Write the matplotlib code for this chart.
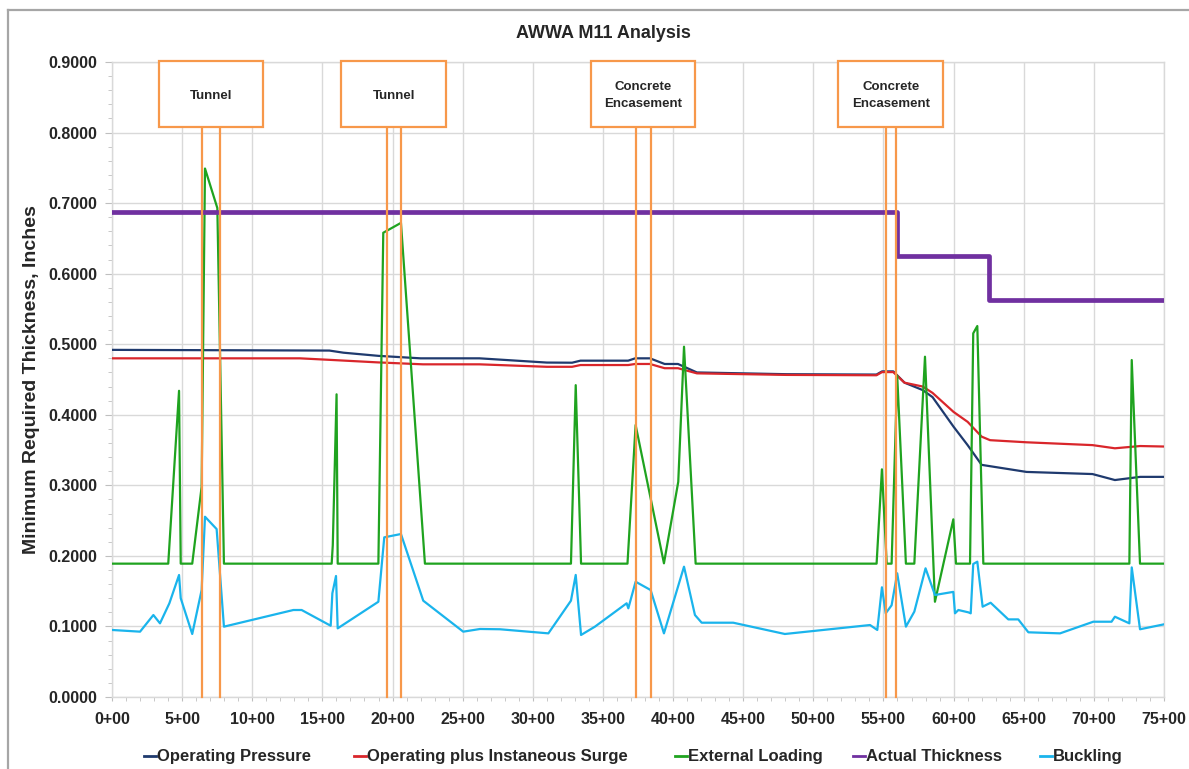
import matplotlib
matplotlib.use("Agg")
import matplotlib.pyplot as plt
from matplotlib.lines import Line2D
from matplotlib.patches import Rectangle
from matplotlib.ticker import MultipleLocator, FuncFormatter

plt.rcParams['font.family'] = ['Liberation Sans', 'DejaVu Sans']
plt.rcParams['font.weight'] = 'bold'

# stationing in feet, thickness in inches
op_x = [0, 1550, 1650, 1900, 2200, 2620, 3100, 3280, 3340, 3680, 3730, 3835, 3940, 4035,
        4170, 4810, 5450, 5490, 5570, 5650, 5780, 5850, 6000, 6100, 6200, 6520, 6990,
        7150, 7330, 7500]
op_y = [0.492, 0.491, 0.488, 0.4835, 0.480, 0.480, 0.474, 0.4738, 0.4767, 0.4767, 0.480,
        0.480, 0.472, 0.472, 0.460, 0.4575, 0.457, 0.4615, 0.4615, 0.4455, 0.435, 0.425,
        0.383, 0.357, 0.329, 0.319, 0.316, 0.3075, 0.312, 0.312]

surge_x = [0, 1340, 1576, 1890, 2217, 2620, 3100, 3280, 3340, 3680, 3730, 3835, 3940, 4035,
           4170, 4810, 5450, 5490, 5570, 5650, 5780, 5850, 6000, 6100, 6200, 6260, 6520,
           6990, 7150, 7330, 7500]
surge_y = [0.480, 0.480, 0.4776, 0.4743, 0.4715, 0.4715, 0.468, 0.468, 0.4705, 0.4705,
           0.472, 0.472, 0.466, 0.466, 0.4587, 0.4565, 0.456, 0.4605, 0.4605, 0.4455,
           0.440, 0.431, 0.404, 0.390, 0.369, 0.364, 0.361, 0.357, 0.3525, 0.3557, 0.355]

ext_x = [0, 401, 478, 490, 572, 639, 663, 751, 798, 1566, 1574, 1601, 1609, 1899, 1934,
         2060, 2231, 3272, 3306, 3344, 3675, 3733, 3935, 4037, 4078, 4161, 5451, 5489,
         5523, 5558, 5598, 5660, 5720, 5796, 5867, 5998, 6017, 6117, 6140, 6169, 6212,
         7253, 7270, 7329, 7500]
ext_y = [0.189, 0.189, 0.434, 0.189, 0.189, 0.298, 0.749, 0.693, 0.189, 0.189, 0.215,
         0.429, 0.189, 0.189, 0.658, 0.672, 0.189, 0.189, 0.442, 0.189, 0.189, 0.3855,
         0.1895, 0.305, 0.4965, 0.189, 0.189, 0.3227, 0.189, 0.189, 0.455, 0.189, 0.189,
         0.4823, 0.135, 0.2518, 0.189, 0.189, 0.5154, 0.5258, 0.189, 0.189, 0.4776,
         0.189, 0.189]

thk_x = [0, 5600, 6250, 7500]
thk_y = [0.6875, 0.625, 0.5625, 0.5625]

buck_x = [0, 200, 295, 342, 409, 478, 490, 572, 639, 663, 746, 798, 1293, 1352, 1559,
          1571, 1597, 1609, 1899, 1941, 2060, 2219, 2504, 2624, 2766, 3111, 3272, 3306,
          3344, 3443, 3669, 3681, 3733, 3840, 3935, 4078, 4156, 4204, 4429, 4797, 5404,
          5456, 5489, 5516, 5558, 5598, 5660, 5720, 5800, 5867, 5998, 6010, 6034, 6105,
          6122, 6140, 6169, 6207, 6264, 6390, 6461, 6533, 6759, 6996, 7126, 7150, 7253,
          7270, 7329, 7500]
buck_y = [0.095, 0.0926, 0.1162, 0.1044, 0.1328, 0.1729, 0.140, 0.0893, 0.1516, 0.2555,
          0.238, 0.0997, 0.1233, 0.1233, 0.101, 0.147, 0.1715, 0.0973, 0.135, 0.2263,
          0.231, 0.1365, 0.0926, 0.0964, 0.096, 0.0902, 0.1365, 0.173, 0.0879, 0.0997,
          0.1328, 0.1257, 0.1634, 0.1516, 0.0902, 0.1847, 0.1162, 0.1053, 0.1053, 0.0893,
          0.102, 0.095, 0.1555, 0.1186, 0.130, 0.1753, 0.0997, 0.121, 0.1824, 0.1446,
          0.149, 0.1186, 0.1233, 0.120, 0.1186, 0.1885, 0.1918, 0.128, 0.1336, 0.110,
          0.110, 0.0917, 0.0902, 0.1067, 0.1067, 0.1138, 0.1044, 0.1837, 0.096, 0.103]

# special zones (start, end) and their callout labels
zone_labels = ["Tunnel", "Tunnel", "Concrete\nEncasement", "Concrete\nEncasement"]
zone_start = [641, 1957, 3733, 5516]
zone_end = [770, 2060, 3840, 5587]

orange = '#f7984a'
txt = '#262626'
grid = '#d9d9d9'

fig = plt.figure(figsize=(11.89, 7.69), dpi=100)
ax = fig.add_axes([112 / 1189, 1 - 697 / 769, 1052 / 1189, 635 / 769])

lines = []
lines += ax.plot(op_x, op_y, color='#1f3a6e', lw=1.6, label='Operating Pressure', zorder=3)
lines += ax.plot(surge_x, surge_y, color='#d9262b', lw=1.6, label='Operating plus Instaneous Surge', zorder=3)
lines += ax.plot(ext_x, ext_y, color='#1fa31f', lw=1.6, label='External Loading', zorder=3)
lines += ax.plot(thk_x, thk_y, color='#7030a0', lw=3.4, drawstyle='steps-post', label='Actual Thickness', zorder=3)
lines += ax.plot(buck_x, buck_y, color='#1ab4ec', lw=1.6, label='Buckling', zorder=3)

# zone markers with callout boxes on top
box_w = 745
box_lo, box_hi = 0.808, 0.901
for lab, s, e in zip(zone_labels, zone_start, zone_end):
    ax.plot([s, s], [0, box_lo], color=orange, lw=1.6, zorder=5, clip_on=False)
    ax.plot([e, e], [0, box_lo], color=orange, lw=1.6, zorder=5, clip_on=False)
    mid = (s + e) / 2
    ax.add_patch(Rectangle((mid - box_w / 2, box_lo), box_w, box_hi - box_lo,
                           facecolor='white', edgecolor=orange, lw=1.6, zorder=6, clip_on=False))
    ax.text(mid, (box_lo + box_hi) / 2 - 0.002, lab, ha='center', va='center', fontsize=9.5,
            color=txt, fontweight='bold', linespacing=1.45, zorder=7)

ax.set_xlim(0, 7500)
ax.set_ylim(0, 0.9)
ax.xaxis.set_major_locator(MultipleLocator(500))
ax.xaxis.set_minor_locator(MultipleLocator(100))
ax.yaxis.set_major_locator(MultipleLocator(0.1))
ax.yaxis.set_minor_locator(MultipleLocator(0.02))
ax.xaxis.set_major_formatter(FuncFormatter(lambda v, p: "%d+%02d" % (int(v) // 100, int(v) % 100)))
ax.yaxis.set_major_formatter(FuncFormatter(lambda v, p: "%.4f" % v))
ax.grid(True, which='major', color=grid, lw=1.0, zorder=0)
ax.set_axisbelow(True)
for sp in ax.spines.values():
    sp.set_color(grid)
    sp.set_linewidth(1.0)
ax.tick_params(axis='both', which='both', colors='#bfbfbf', labelcolor=txt)
ax.tick_params(axis='y', which='major', length=5, pad=5.5, labelsize=11.5)
ax.tick_params(axis='y', which='minor', length=3)
ax.tick_params(axis='x', which='major', length=3, pad=8, labelsize=11.5)
ax.tick_params(axis='x', which='minor', length=3)
for t in ax.get_xticklabels() + ax.get_yticklabels():
    t.set_fontweight('bold')

ax.set_ylabel('Minimum Required Thickness, Inches', fontsize=14, fontweight='bold',
              color=txt, labelpad=6)
fig.text(603 / 1189, 1 - 33 / 769, 'AWWA M11 Analysis', ha='center', va='center',
         fontsize=13, fontweight='bold', color=txt)

# legend row along the bottom, text sitting on a common baseline
leg_x = [144, 354, 675, 853, 1040]
leg_y = 1 - 756 / 769
for ln, x0 in zip(lines, leg_x):
    fig.add_artist(Line2D([x0 / 1189, (x0 + 12) / 1189], [leg_y, leg_y], color=ln.get_color(),
                          lw=2, transform=fig.transFigure))
    fig.text((x0 + 13) / 1189, 1 - 761 / 769, ln.get_label(), ha='left', va='baseline',
             fontsize=12, fontweight='bold', color=txt)

# outer chart border
fig.add_artist(Line2D([8 / 1189, 1], [1 - 10 / 769, 1 - 10 / 769], color='#a6a6a6', lw=1.6,
                      transform=fig.transFigure))
fig.add_artist(Line2D([8 / 1189, 8 / 1189], [0, 1 - 10 / 769], color='#a6a6a6', lw=1.6,
                      transform=fig.transFigure))

fig.savefig('out.png', dpi=100)
